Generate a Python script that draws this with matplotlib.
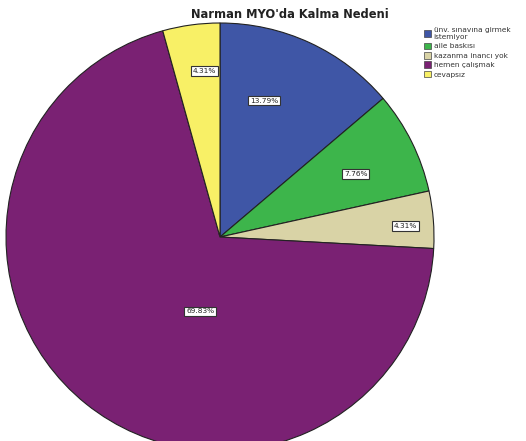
import numpy as np
import matplotlib
matplotlib.use("Agg")
import matplotlib.pyplot as plt
from matplotlib.patches import Patch

categories = ["ünv. sınavına girmek\nistemiyor", "aile baskısı", "kazanma inancı yok", "hemen çalışmak", "cevapsız"]
values = [13.79, 7.76, 4.31, 69.83, 4.31]
labels = ["13.79%", "7.76%", "4.31%", "69.83%", "4.31%"]
colors = ["#3f56a6", "#3db54b", "#d9d3a6", "#7a2173", "#f8f066"]
title = "Narman MYO'da Kalma Nedeni"

# label placement (radius fraction, angle offset in degrees)
lab_r = [0.67, 0.70, 0.87, 0.36, 0.78]
lab_da = [7, -1.5, -1.3, 24, -2.3]

W, H = 526, 441
fig = plt.figure(figsize=(W / 100, H / 100), dpi=100)
ax = fig.add_axes([0, 0, 1, 1])
cx, cy, R = 220, 237, 214

wedges, _ = ax.pie(values, colors=colors, startangle=90, counterclock=False,
                   radius=1, center=(0, 0), frame=True,
                   wedgeprops=dict(edgecolor="#222222", linewidth=0.8))
ax.set_xlim(-cx / R, (W - cx) / R)
ax.set_ylim(-(H - cy) / R, cy / R)
ax.set_aspect("auto")
ax.axis("off")

total = sum(values)
start = 90.0
for v, lab, rf, da in zip(values, labels, lab_r, lab_da):
    mid = start - v / total * 360 / 2
    a = np.deg2rad(mid + da)
    ax.text(rf * np.cos(a), rf * np.sin(a), lab, ha="center", va="center",
            fontsize=5.3, color="#222222",
            bbox=dict(boxstyle="square,pad=0.25", fc="white", ec="#333333", lw=0.8))
    start -= v / total * 360

fig.text(290 / W, 1 - 14 / H, title, ha="center", va="center",
         fontsize=8.3, fontweight="bold", color="#222222")

handles = [Patch(facecolor=c, edgecolor="#444444", linewidth=0.5) for c in colors]
leg = fig.legend(handles, categories, loc="upper left",
                 bbox_to_anchor=(424 / W, 1 - 27 / H), frameon=False,
                 fontsize=5.3, handlelength=1.0, handleheight=1.0,
                 handletextpad=0.3, labelspacing=0.35, borderaxespad=0,
                 borderpad=0)
for t in leg.get_texts():
    t.set_color("#333333")

fig.savefig("out.png", dpi=100)
